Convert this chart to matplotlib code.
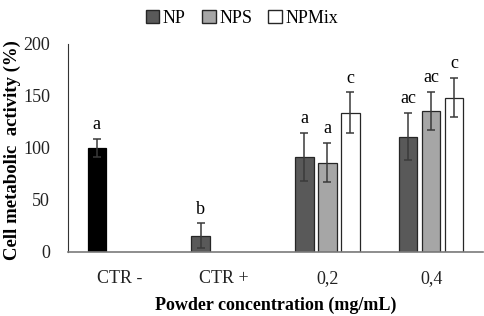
import matplotlib
matplotlib.use("Agg")
import matplotlib.pyplot as plt
import numpy as np
from matplotlib.patches import Patch

plt.rcParams['font.family'] = ['Liberation Serif', 'DejaVu Serif']

categories = ["CTR -", "CTR +", "0,2", "0,4"]
series = ["NP", "NPS", "NPMix"]
# values per series per category (nan = absent)
ctr_neg = [100, np.nan, np.nan, np.nan]
ctr_neg_err = [9, np.nan, np.nan, np.nan]
np_vals = [np.nan, 15.5, 91.5, 111]
np_err = [np.nan, 12, 23, 23]
nps_vals = [np.nan, np.nan, 86, 135.5]
nps_err = [np.nan, np.nan, 19, 18.5]
npmix_vals = [np.nan, np.nan, 134, 148.5]
npmix_err = [np.nan, np.nan, 19.5, 19]
letters_ctr = ["a", "", "", ""]
letters_np = ["", "b", "a", "ac"]
letters_nps = ["", "", "a", "ac"]
letters_npmix = ["", "", "c", "c"]
yticks = [0, 50, 100, 150, 200]

fig = plt.figure(figsize=(4.84, 3.16), dpi=100)
ax = fig.add_axes([68/484, 64/316, 415/484, 208/316])

x = np.arange(len(categories))
w = 0.18
off = 0.222
ecol = "#3a3a3a"

def draw(xpos, vals, errs, color, letters, edge):
    vals = np.array(vals, float); errs = np.array(errs, float)
    m = ~np.isnan(vals)
    ax.bar(xpos[m], vals[m], width=w, color=color, edgecolor=edge, linewidth=0.9, zorder=2)
    ax.errorbar(xpos[m], vals[m], yerr=errs[m], fmt='none', ecolor=ecol,
                elinewidth=1.1, capsize=3, capthick=1.1, zorder=3)
    for xi, v, e, l in zip(xpos, vals, errs, letters):
        if l:
            ax.annotate(l, (xi, v + e), xytext=(0, 4), textcoords='offset points',
                        ha='center', va='bottom', fontsize=13)

draw(x - off, ctr_neg, ctr_neg_err, "#000000", letters_ctr, "#000000")
draw(x - off, np_vals, np_err, "#595959", letters_np, "#262626")
draw(x, nps_vals, nps_err, "#a6a6a6", letters_nps, "#262626")
draw(x + off, npmix_vals, npmix_err, "#ffffff", letters_npmix, "#262626")

ax.set_xlim(-0.5, 3.5)
ax.set_ylim(0, 200)
ax.set_yticks(yticks)
ax.set_xticks(x)
ax.set_xticklabels(categories)
ax.tick_params(axis='both', length=0, labelsize=13, colors='#222222')
ax.tick_params(axis='x', pad=13)
ax.tick_params(axis='y', pad=13)
ax.spines['top'].set_visible(False)
ax.spines['right'].set_visible(False)
ax.spines['left'].set_color('#333333')
ax.spines['bottom'].set_color('#7a7a7a')
ax.spines['bottom'].set_linewidth(1.2)

ax.set_xlabel("Powder concentration (mg/mL)", fontsize=13, fontweight='bold', labelpad=7)
ax.set_ylabel("Cell metabolic  activity (%)", fontsize=13.5, fontweight='bold')
ax.yaxis.set_label_coords(-0.113, 0.49)

handles = [Patch(facecolor="#595959", edgecolor="#262626", label="NP"),
           Patch(facecolor="#a6a6a6", edgecolor="#262626", label="NPS"),
           Patch(facecolor="#ffffff", edgecolor="#262626", label="NPMix")]
fig.legend(handles=handles, loc='upper center', bbox_to_anchor=(0.5, 1.02), ncol=3,
           frameon=False, fontsize=13, handlelength=0.75, handleheight=0.75,
           handletextpad=0.2, columnspacing=0.9)

fig.savefig("out.png", dpi=100)
